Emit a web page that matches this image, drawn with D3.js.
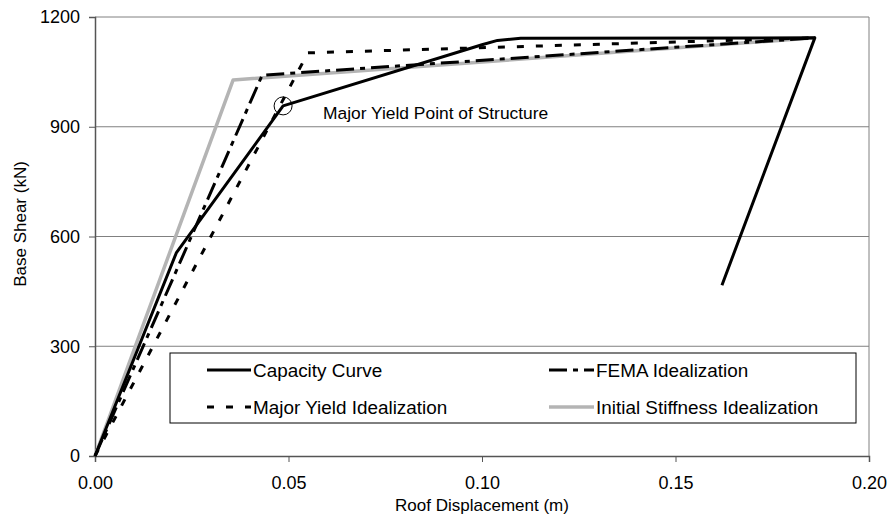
<!DOCTYPE html>
<html><head><meta charset="utf-8">
<script src="https://cdn.jsdelivr.net/npm/d3@7"></script>
<style>body{margin:0;background:#fff;} text{font-family:"Liberation Sans",Arial,sans-serif;fill:#000;}</style>
</head><body><svg id="c" width="890" height="530"></svg>
<script>
const xTicks = [0, 0.05, 0.10, 0.15, 0.20];
const yTicks = [0, 300, 600, 900, 1200];
const capX = [0, 0.021, 0.0486, 0.100, 0.104, 0.110, 0.186, 0.162];
const capY = [0, 555, 957, 1124, 1136, 1142, 1143, 467];
const femaX = [0, 0.0432, 0.186];
const femaY = [0, 1041, 1143];
const majorX = [0, 0.055, 0.186];
const majorY = [0, 1102, 1143];
const initX = [0, 0.0357, 0.186];
const initY = [0, 1028, 1143];
const yieldPoint = [0.0486, 957];
const seriesNames = ["Capacity Curve", "FEMA Idealization", "Major Yield Idealization", "Initial Stiffness Idealization"];

const svg = d3.select("#c");
const L = 95, R = 869, T = 17, B = 456;
const x = d3.scaleLinear().domain([0, 0.20]).range([L, R]);
const y = d3.scaleLinear().domain([0, 1200]).range([B, T]);

// gridlines
svg.append("g").selectAll("line").data(yTicks.filter(d => d > 0)).join("line")
  .attr("x1", L).attr("x2", R).attr("y1", d => y(d)).attr("y2", d => y(d))
  .attr("stroke", "#808080").attr("stroke-width", 1);
// right border
svg.append("line").attr("x1", R).attr("x2", R).attr("y1", T).attr("y2", B).attr("stroke", "#808080");

// axes
const xAxis = svg.append("g").attr("transform", `translate(0,${B})`)
  .call(d3.axisBottom(x).tickValues(xTicks).tickFormat(d3.format(".2f")).tickSize(6).tickPadding(14));
const yAxis = svg.append("g").attr("transform", `translate(${L},0)`)
  .call(d3.axisLeft(y).tickValues(yTicks).tickFormat(d3.format("d")).tickSize(6).tickPadding(8));
[xAxis, yAxis].forEach(a => {
  a.select(".domain").attr("stroke", "#555").attr("stroke-width", 1.5);
  a.selectAll(".tick line").attr("stroke", "#555");
  a.selectAll("text").style("font-size", "18px").style("font-family", "Liberation Sans, Arial, sans-serif").attr("fill", "#000");
});
yAxis.selectAll("text").attr("x", -15);

const line = d3.line().x(d => x(d[0])).y(d => y(d[1]));
const zipP = (a, b) => a.map((v, i) => [v, b[i]]);

const styles = [
  {stroke: "#b4b4b4", w: 3.5, dash: null},
  {stroke: "#000", w: 3, dash: "7,12"},
  {stroke: "#000", w: 3, dash: "18,6,5,6"},
  {stroke: "#000", w: 3, dash: null}
];
const data = [zipP(initX, initY), zipP(majorX, majorY), zipP(femaX, femaY), zipP(capX, capY)];
data.forEach((d, i) => {
  svg.append("path").attr("d", line(d)).attr("fill", "none")
    .attr("stroke", styles[i].stroke).attr("stroke-width", styles[i].w)
    .attr("stroke-dasharray", styles[i].dash).attr("stroke-linejoin", "round");
});

// yield point circle + label
svg.append("circle").attr("cx", x(yieldPoint[0])).attr("cy", y(yieldPoint[1])).attr("r", 9)
  .attr("fill", "none").attr("stroke", "#000").attr("stroke-width", 1);
svg.append("text").attr("x", 323).attr("y", 119).style("font-size", "17.4px").text("Major Yield Point of Structure");

// legend
const lg = svg.append("g");
lg.append("rect").attr("x", 170).attr("y", 353).attr("width", 686).attr("height", 70)
  .attr("fill", "#fff").attr("stroke", "#000").attr("stroke-width", 1);
const legItems = [
  {name: seriesNames[0], st: styles[3], sx: 207, ty: 370, tx: 253},
  {name: seriesNames[1], st: styles[2], sx: 549, ty: 370, tx: 596},
  {name: seriesNames[2], st: styles[1], sx: 207, ty: 407, tx: 253},
  {name: seriesNames[3], st: styles[0], sx: 549, ty: 407, tx: 596}
];
legItems.forEach(it => {
  lg.append("line").attr("x1", it.sx).attr("x2", it.tx - 2).attr("y1", it.ty).attr("y2", it.ty)
    .attr("stroke", it.st.stroke).attr("stroke-width", it.st.w).attr("stroke-dasharray", it.st.dash);
  lg.append("text").attr("x", it.tx).attr("y", it.ty + 7).style("font-size", "18.9px").text(it.name);
});

// axis titles
svg.append("text").attr("x", (L + R) / 2).attr("y", 511).attr("text-anchor", "middle").style("font-size", "17px").text("Roof Displacement (m)");
svg.append("text").attr("transform", "translate(26,224) rotate(-90)").attr("text-anchor", "middle").style("font-size", "17px").text("Base Shear (kN)");
</script></body></html>
